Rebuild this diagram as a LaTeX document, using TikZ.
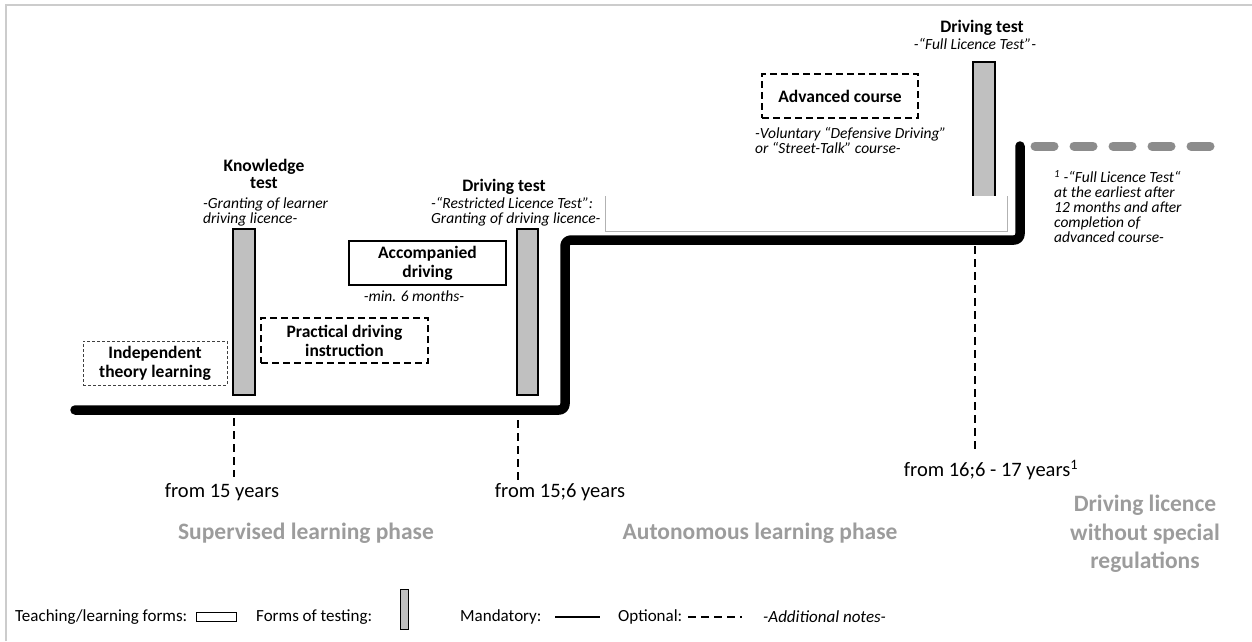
\documentclass[tikz,border=0pt]{standalone}
\usepackage{fontspec}
\setmainfont{Carlito}
\definecolor{barfill}{HTML}{C0C0C0}
\definecolor{phasegray}{HTML}{9C9C9C}
\definecolor{optgray}{HTML}{8C8C8C}
\definecolor{framegray}{HTML}{CCCCCC}
\begin{document}
\begin{tikzpicture}[x=1pt,y=-1pt,
  mand/.style={line width=9.5pt, line cap=round, line join=round, rounded corners=6pt},
  optline/.style={line width=9pt, line cap=round, optgray, dash pattern=on 19pt off 20pt},
  testbar/.style={draw, fill=barfill, line width=1.3pt},
  teachbox/.style={draw, line width=1.8pt, inner sep=0pt, align=center, font=\fontsize{17.5}{19}\selectfont\bfseries},
  optbox/.style={draw, line width=1.6pt, dash pattern=on 7pt off 4pt, inner sep=0pt, align=center, font=\fontsize{17.5}{19}\selectfont\bfseries},
  thinopt/.style={draw=black!75, line width=0.9pt, dash pattern=on 3pt off 2pt, inner sep=0pt, align=center, font=\fontsize{17.5}{19}\selectfont\bfseries},
  lbl/.style={inner sep=0pt, align=center, font=\fontsize{17.5}{17.5}\selectfont\bfseries},
  note/.style={inner sep=0pt, align=left, font=\fontsize{15.5}{15}\selectfont\itshape},
  notec/.style={inner sep=0pt, align=center, font=\fontsize{15.5}{15}\selectfont\itshape},
  age/.style={inner sep=0pt, font=\fontsize{20.5}{22}\selectfont},
  phase/.style={inner sep=0pt, align=center, text=phasegray, font=\fontsize{23.5}{28.5}\selectfont\bfseries},
  legend/.style={inner sep=0pt, anchor=west, font=\fontsize{17}{19}\selectfont},
  marker/.style={line width=1.8pt, dash pattern=on 8pt off 5pt}
]
\useasboundingbox (0,0) rectangle (1252,641);
% frame
\draw[framegray, line width=2pt] (6,641) -- (6,5) -- (1252,5);

% mandatory path
\coordinate (m0) at (75,410);
\coordinate (m1) at (565,410);
\coordinate (m2) at (565,240);
\coordinate (m3) at (1020,240);
\coordinate (m4) at (1020,146);
\draw[mand] (m0) -- (m1) -- (m2) -- (m3) -- (m4);
% optional continuation
\coordinate (o0) at (1035,146);
\coordinate (o1) at (1212,146);
\draw[optline] (o0) -- (o1);

% testing bars
\node[testbar, minimum width=22pt, minimum height=166pt, inner sep=0pt] (bar1) at (244,312) {};
\node[testbar, minimum width=21pt, minimum height=166pt, inner sep=0pt] (bar2) at (527.5,312) {};
\node[testbar, minimum width=22pt, minimum height=160pt, inner sep=0pt] (bar3) at (984,142) {};
% white overlay box
\coordinate (w0) at (605,196);
\coordinate (w1) at (1007,231);
\fill[white] (w0) rectangle (w1);
\draw[black!30, line width=0.8pt] (605,196) -- (605,231) -- (1007,231) -- (1007,196);

% age markers
\coordinate (a1t) at (234,418); \coordinate (a1b) at (234,477);
\coordinate (a2t) at (518,420); \coordinate (a2b) at (518,480);
\coordinate (a3t) at (975,246); \coordinate (a3b) at (975,452);
\draw[marker] (a1t) -- (a1b);
\draw[marker] (a2t) -- (a2b);
\draw[marker] (a3t) -- (a3b);

% boxes
\node[thinopt, minimum width=144pt, minimum height=44pt] (indep) at (155,363) {Independent\\theory learning};
\node[optbox, minimum width=167pt, minimum height=45pt] (pract) at (344.5,340.5) {Practical driving\\instruction};
\node[teachbox, minimum width=157pt, minimum height=44pt] (accomp) at (427.5,263) {Accompanied\\driving};
\node[optbox, minimum width=156pt, minimum height=44pt] (adv) at (840,96) {Advanced course};

% labels
\node[lbl, anchor=north] (kt) at (264,159) {Knowledge\\test};
\node[note, anchor=north west] (ktn) at (203,198) {-Granting of learner\\driving licence-};
\node[lbl] (dt1) at (504,187) {Driving test};
\node[note, anchor=north west] (dt1n) at (431,197) {-“Restricted Licence Test”:\\Granting of driving licence-};
\node[notec] (acn) at (414,296) {-min. 6 months-};
\node[lbl] (dt2) at (982,28) {Driving test};
\node[notec] (dt2n) at (975,44) {-“Full Licence Test”-};
\node[note, anchor=north west] (advn) at (755,127) {-Voluntary “Defensive Driving”\\or “Street-Talk” course-};
\node[note, anchor=north west] (fn) at (1054,170) {\textsuperscript{1} -“Full Licence Test“\\at the earliest after\\12 months and after\\completion of\\advanced course-};

% ages
\node[age] (age1) at (222,492) {from 15 years};
\node[age] (age2) at (560,492) {from 15;6 years};
\node[age] (age3) at (991,470) {from 16;6 - 17 years\textsuperscript{1}};

% phases
\node[phase] (ph1) at (306,533) {Supervised learning phase};
\node[phase] (ph2) at (760,533) {Autonomous learning phase};
\node[phase] (ph3) at (1145,534) {Driving licence\\without special\\regulations};

% legend
\node[legend] (lg1) at (15,617) {Teaching/learning forms:};
\node[draw, line width=1pt, minimum width=40pt, minimum height=9pt, inner sep=0pt] (lgbox) at (216,616.5) {};
\node[legend] (lg2) at (256,617) {Forms of testing:};
\node[testbar, line width=1pt, minimum width=8pt, minimum height=40pt, inner sep=0pt] (lgbar) at (404,609) {};
\node[legend] (lg3) at (460,617) {Mandatory:};
\coordinate (lm0) at (555,617); \coordinate (lm1) at (600,617);
\draw[line width=1.5pt] (lm0) -- (lm1);
\node[legend] (lg4) at (618,617) {Optional:};
\coordinate (lo0) at (688,617); \coordinate (lo1) at (742,617);
\draw[line width=2pt, dash pattern=on 8pt off 5pt] (lo0) -- (lo1);
\node[legend, font=\fontsize{17}{19}\selectfont\itshape] (lg5) at (763,617) {-Additional notes-};
\end{tikzpicture}
\end{document}
